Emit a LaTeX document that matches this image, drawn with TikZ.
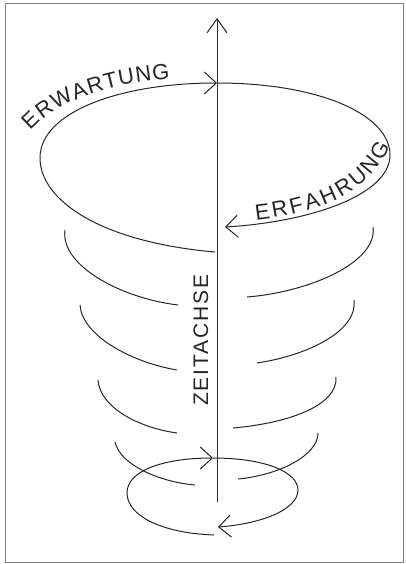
\documentclass[tikz,border=0pt]{standalone}
\usepackage{fontspec}
\newfontfamily\handfont{Liberation Sans}
\usetikzlibrary{arrows.meta,decorations.text}

\begin{document}
\begin{tikzpicture}[x=1pt,y=-1pt,>={Straight Barb[length=12pt,width=22pt]},
  pen/.style={line width=1pt,black!85},
  handtext/.style={decorate,decoration={text along path,text align={fit to path},
    text={|\handfont\fontsize{22}{26}\selectfont\color{black!85}|#1}}}]
\useasboundingbox (0,0) rectangle (406,564);
\draw[gray,line width=0.8pt](5,3)rectangle(403,562);
% time axis
\coordinate (axbot) at (217,502);
\coordinate (axtop) at (217,18);
\draw[pen,->,>={Straight Barb[length=14pt,width=20pt]}](axbot)--(axtop);
\node[rotate=90,text=black!85,font=\handfont\fontsize{21}{24}\selectfont\addfontfeature{LetterSpace=9}](zeit)at(201,340){ZEITACHSE};
% upper loop
\draw[pen,->](215,252)..controls(100,242)and(40,200)..(40,158)
  ..controls(40,112)and(120,83)..(217,83);
\draw[pen,->](217,83)..controls(320,83)and(390,115)..(390,155)
  ..controls(390,195)and(310,222)..(225,227);
\path[handtext=ERWARTUNG](31,131)..controls(55,104)and(100,84)..(170,79);
\path[handtext=ERFAHRUNG](256,220)..controls(320,212)and(368,195)..(390,146);
% coils
\draw[pen](65,230)..controls(60,265)and(120,298)..(178,305);
\draw[pen](373,227)..controls(378,262)and(310,292)..(247,297);
\draw[pen](80,305)..controls(82,335)and(130,362)..(177,370);
\draw[pen](354,300)..controls(358,330)and(310,355)..(257,363);
\draw[pen](98,380)..controls(100,408)and(140,428)..(177,433);
\draw[pen](336,377)..controls(338,405)and(290,423)..(233,428);
\draw[pen](115,442)..controls(120,465)and(160,482)..(195,485);
\draw[pen](318,433)..controls(318,455)and(280,475)..(238,479);
% lower loop
\draw[pen,->](214,535)..controls(160,533)and(127,515)..(127,493)
  ..controls(127,470)and(165,458)..(213,458);
\draw[pen,->](213,458)..controls(265,458)and(298,472)..(298,490)
  ..controls(298,510)and(260,524)..(218,527);
\end{tikzpicture}
\end{document}
